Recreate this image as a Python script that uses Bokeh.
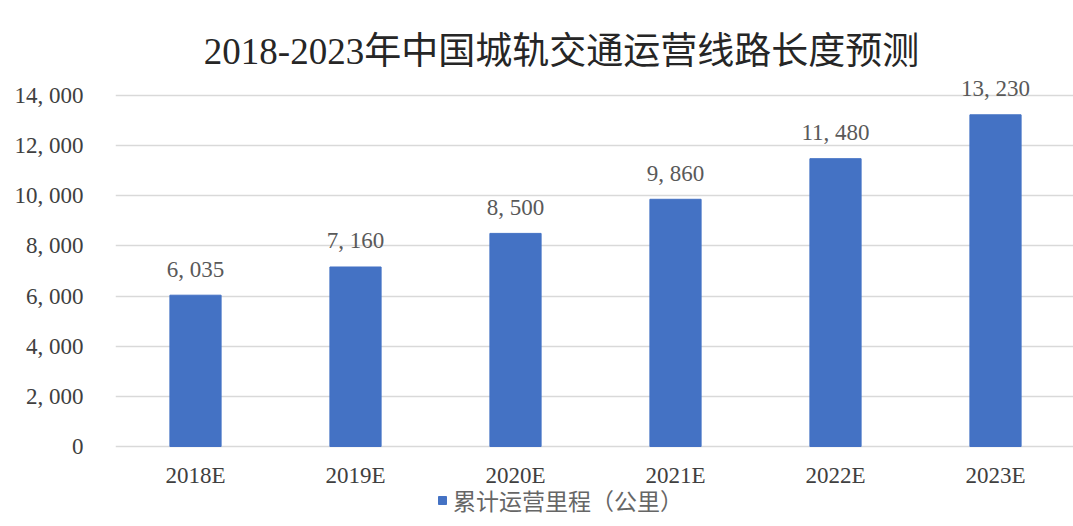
from bokeh.plotting import figure
from bokeh.models import Range1d, FixedTicker, Label, Legend, LegendItem, ColumnDataSource
from bokeh.core.properties import value
from bokeh.embed import file_html
from bokeh.resources import INLINE

# ---- data ----
categories = ["2018E", "2019E", "2020E", "2021E", "2022E", "2023E"]
values = [6035, 7160, 8500, 9860, 11480, 13230]
y_ticks = [0, 2000, 4000, 6000, 8000, 10000, 12000, 14000]
y_tick_labels = ["0", "2, 000", "4, 000", "6, 000", "8, 000", "10, 000", "12, 000", "14, 000"]
title_text = "2018-2023年中国城轨交通运营线路长度预测"
series_name = "累计运营里程（公里）"

SERIF = "'Liberation Serif', 'Noto Sans CJK SC', serif"
SANS = "'Noto Sans CJK SC', sans-serif"

xs = list(range(len(categories)))
labels = [f"{v:,}".replace(",", ", ") for v in values]
src = ColumnDataSource(dict(x=xs, top=values, label=labels))
cat_src = ColumnDataSource(dict(x=xs, y=[0] * len(xs), cat=categories))

p = figure(width=1073, height=526,
           x_range=Range1d(-0.5, 5.4875), y_range=Range1d(-3191, 16991.5),
           output_backend="svg", toolbar_location=None,
           x_axis_location=None,
           min_border_left=115, min_border_right=0,
           min_border_top=20, min_border_bottom=0)
p.outline_line_color = None
p.background_fill_color = "white"
p.border_fill_color = "white"

r = p.vbar(x="x", top="top", width=0.32, source=src,
           fill_color="#4472C4", line_color="#4472C4")

# value labels above bars
p.text(x="x", y="top", text="label", source=src, y_offset=-26,
       text_align="center", text_baseline="middle",
       text_font=value(SERIF), text_font_size="23px", text_color="#595959")

# category labels under the bars
p.text(x="x", y="y", text="cat", source=cat_src, y_offset=29,
       text_align="center", text_baseline="middle",
       text_font=value(SERIF), text_font_size="23px", text_color="#404040")

# y axis
p.yaxis.ticker = FixedTicker(ticks=y_ticks)
p.yaxis.major_label_overrides = dict(zip(y_ticks, y_tick_labels))
p.yaxis.axis_line_color = None
p.yaxis.major_tick_line_color = None
p.yaxis.minor_tick_line_color = None
p.yaxis.major_label_standoff = 26
p.yaxis.major_label_text_font = SERIF
p.yaxis.major_label_text_font_size = "23px"
p.yaxis.major_label_text_color = "#404040"

# grid
p.xgrid.visible = False
p.ygrid.ticker = FixedTicker(ticks=y_ticks)
p.ygrid.grid_line_color = "#d9d9d9"
p.ygrid.grid_line_width = 1.5

# title
p.add_layout(Label(x=2.2875, y=15755, text=title_text, text_align="center",
                   text_baseline="middle", text_font=SERIF,
                   text_font_size="37px", text_color="#262626"))

legend = Legend(items=[LegendItem(label=series_name, renderers=[r])],
                location=(322, 9), glyph_width=10, glyph_height=10,
                label_text_font=SANS, label_text_font_size="23px",
                label_text_color="#666666", label_standoff=6,
                padding=0, margin=0, border_line_color=None,
                background_fill_alpha=0)
p.add_layout(legend)

open("out.html", "w").write(file_html(p, INLINE))
